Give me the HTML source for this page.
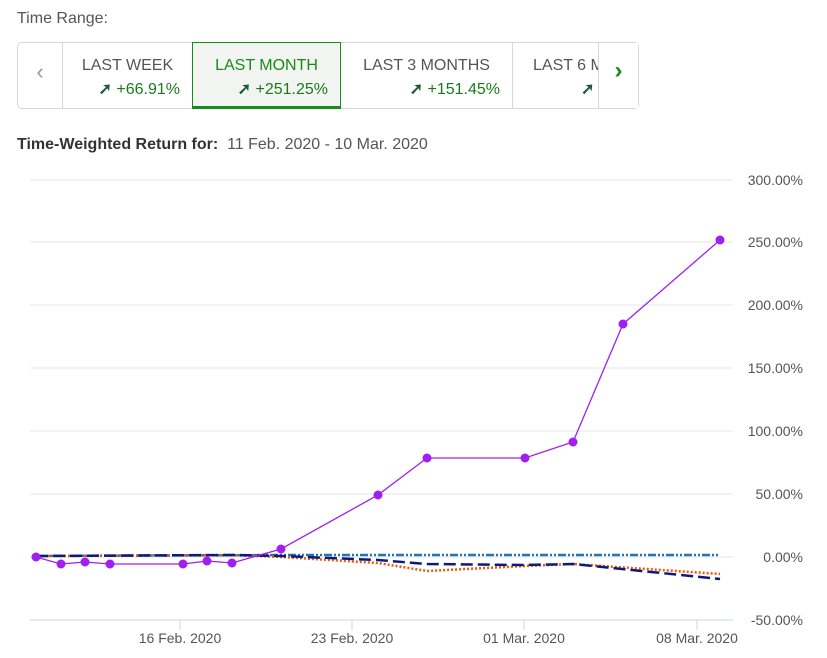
<!DOCTYPE html><html><head><style>
body{margin:0;width:827px;height:658px;background:#fff;font-family:"Liberation Sans",sans-serif;overflow:hidden;position:relative}
.t{position:absolute;color:#555}
.box{position:absolute;left:17px;top:42px;width:622px;height:67px;border:1px solid #d6d6d6;border-radius:5px;box-sizing:border-box}
.cell{position:absolute;top:0;height:65px;border-left:1px solid #d6d6d6;box-sizing:border-box;text-align:right;font-size:16px;color:#555}
.cell .a{position:absolute;top:14px;left:0;right:0;text-align:center}
.cell .b{position:absolute;top:36px;right:12px;color:#1a7a1a}
</style></head><body>
<div class="t" style="left:17px;top:10px;font-size:16px">Time Range:</div>
<div class="box">
<div class="cell" style="left:0;width:44px;border:none"><div class="a" style="top:16px;font-size:22px;color:#999">‹</div></div>
<div class="cell" style="left:44px;width:130px"><div class="a">LAST WEEK</div><div class="b"><span style="color:#1d5a3a;font-weight:bold">➚</span> +66.91%</div></div>
<div class="cell" style="left:174px;width:149px;background:#f2f4f2;border:1px solid #1a8a1a;height:67px;top:-1px;border-bottom:3px solid #1a8a1a"><div class="a" style="color:#1a8a1a">LAST MONTH</div><div class="b"><span style="color:#1d5a3a;font-weight:bold">➚</span> +251.25%</div></div>
<div class="cell" style="left:323px;width:171px;border-left:none"><div class="a">LAST 3 MONTHS</div><div class="b"><span style="color:#1d5a3a;font-weight:bold">➚</span> +151.45%</div></div>
<div class="cell" style="left:494px;width:86px;overflow:hidden;text-align:left"><div class="a" style="left:20px;text-align:left;width:100px">LAST 6 M</div><div class="b" style="right:auto;left:68px"><span style="color:#1d5a3a;font-weight:bold">➚</span></div></div>
<div class="cell" style="left:580px;width:40px;background:#fff"><div class="a" style="top:14px;font-size:24px;color:#1a8a1a;font-weight:bold">›</div></div>
</div>
<div class="t" style="left:17px;top:136px;font-size:16px"><b style="color:#333">Time-Weighted Return for:</b>&nbsp; 11 Feb. 2020 - 10 Mar. 2020</div>
<svg style="position:absolute;left:0;top:0" width="827" height="658">
<g stroke="#e6e6e6" stroke-width="1">
<line x1="30" x2="733" y1="180" y2="180"/><line x1="30" x2="733" y1="242" y2="242"/><line x1="30" x2="733" y1="305" y2="305"/><line x1="30" x2="733" y1="368" y2="368"/><line x1="30" x2="733" y1="431" y2="431"/><line x1="30" x2="733" y1="494" y2="494"/><line x1="30" x2="733" y1="557" y2="557"/>
</g>
<line x1="30" x2="733" y1="620" y2="620" stroke="#ccd6eb"/>
<g stroke="#ccd6eb"><line x1="180" x2="180" y1="620" y2="630"/><line x1="352" x2="352" y1="620" y2="630"/><line x1="524" x2="524" y1="620" y2="630"/><line x1="697" x2="697" y1="620" y2="630"/></g>
<g font-size="14" fill="#555" text-anchor="end">
<text x="803" y="185">300.00%</text><text x="803" y="247">250.00%</text><text x="803" y="310">200.00%</text><text x="803" y="373">150.00%</text><text x="803" y="436">100.00%</text><text x="803" y="499">50.00%</text><text x="803" y="562">0.00%</text><text x="803" y="625">-50.00%</text>
</g>
<g font-size="14" fill="#555" text-anchor="middle">
<text x="180" y="643">16 Feb. 2020</text><text x="352" y="643">23 Feb. 2020</text><text x="524" y="643">01 Mar. 2020</text><text x="697" y="643">08 Mar. 2020</text>
</g>
<polyline fill="none" stroke="#1f77b4" stroke-width="2.5" stroke-dasharray="8,2,2,2,2,2" points="36,556 281,555 720,555"/>
<polyline fill="none" stroke="#e8590c" stroke-width="2.5" stroke-dasharray="2,2" points="36,556 232,555 281,557 378,563 427,571 525,566 573,564 720,574"/>
<polyline fill="none" stroke="#0d1a7a" stroke-width="2.5" stroke-dasharray="12,5" points="36,556 232,555 281,556 378,560 427,564 525,565 573,564 720,579"/>
<polyline fill="none" stroke="#a020f0" stroke-width="1.3" points="36,557 61,564 85,562 110,564 183,564 207,561 232,563 281,549 378,495 427,458 525,458 573,442 623,324 720,240"/>
<g fill="#a020f0">
<circle cx="36" cy="557" r="4.5"/><circle cx="61" cy="564" r="4.5"/><circle cx="85" cy="562" r="4.5"/><circle cx="110" cy="564" r="4.5"/><circle cx="183" cy="564" r="4.5"/><circle cx="207" cy="561" r="4.5"/><circle cx="232" cy="563" r="4.5"/><circle cx="281" cy="549" r="4.5"/><circle cx="378" cy="495" r="4.5"/><circle cx="427" cy="458" r="4.5"/><circle cx="525" cy="458" r="4.5"/><circle cx="573" cy="442" r="4.5"/><circle cx="623" cy="324" r="4.5"/><circle cx="720" cy="240" r="4.5"/>
</g>
</svg>
</body></html>
